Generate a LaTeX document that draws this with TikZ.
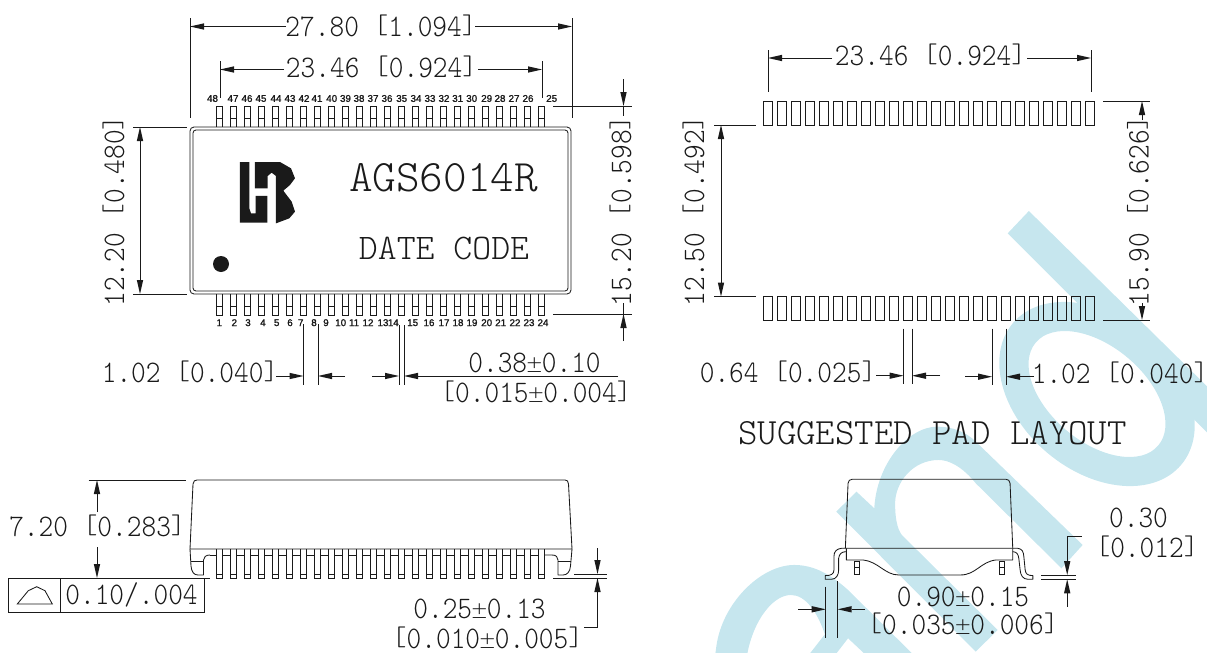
\documentclass[tikz,border=0pt]{standalone}
\usepackage{fontspec}
\usetikzlibrary{arrows.meta}
\newfontfamily\lmlight{Latin Modern Mono Light}
\newfontfamily\pinfont{Liberation Sans}[FakeBold=1.5]
\newfontfamily\pmfont{DejaVu Sans ExtraLight}
\definecolor{wm}{HTML}{C6E6EE}
\definecolor{ink}{HTML}{1A1A1A}
\newcommand\tall[1]{\scalebox{1}[1.12]{#1}}
\newcommand\dimlb{\raisebox{.0925em}{\scalebox{1}[.85]{[}}}
\newcommand\dimrb{\raisebox{.0925em}{\scalebox{1}[.85]{]}}}
\newcommand\dimpm{\makebox[.525em]{{\pmfont\fontsize{21}{21}\selectfont ±}}}
\tikzset{
  x=1pt,y=-1pt,
  line/.style={draw=ink,line width=0.85pt},
  dimhead/.style={line,-{Triangle[length=14pt,width=6.4pt,line width=0pt]}},
  dimboth/.style={line,{Triangle[length=14pt,width=6.4pt,line width=0pt]}-{Triangle[length=14pt,width=6.4pt,line width=0pt]}},
  dt/.style={inner sep=0pt,anchor=base,text=ink,font=\lmlight\fontsize{28}{28}\selectfont},
  vdt/.style={dt,rotate=90},
  pinlabel/.style={inner sep=0pt,text=ink,font=\pinfont\fontsize{9.8}{9.8}\selectfont},
  watermark/.style={fill=wm,draw=none},
  bodyline/.style={line,line join=round},
}
\begin{document}
\begin{tikzpicture}
\useasboundingbox (0,0) rectangle (1207,653);
% ---------- watermark ----------
\begin{scope}
\clip (0,0) rectangle (1207,653);
\begin{scope}[shift={(680,200)},x=0.3361pt,y=-0.3333pt]
  \fill[watermark] (1038,33) -- (1700,690) -- (1700,830) -- (975,100) -- cycle;
  \fill[watermark] (525,875) -- (578,925) .. controls (585,790) and (680,680) .. (765,680)
     .. controls (810,680) and (850,695) .. (880,725) -- (1198,1035) -- (1135,1105) -- (880,850)
     .. controls (840,800) and (800,780) .. (770,780) .. controls (690,780) and (640,850) .. (640,910)
     .. controls (640,950) and (645,985) .. (660,1005) -- (945,1290) -- (880,1355) -- (465,935) -- cycle;
  \fill[watermark,even odd rule] (100,1400) -- (108,1340) .. controls (125,1210) and (240,1095) .. (340,1095)
     .. controls (400,1095) and (450,1125) .. (500,1170) -- (730,1400) -- cycle
     (195,1400) .. controls (205,1280) and (270,1185) .. (330,1185) .. controls (375,1185) and (410,1240) .. (431,1303) -- (356,1400) -- cycle
     (500,1315) -- (590,1400) -- (435,1400) -- cycle;
\end{scope}
\fill[watermark,even odd rule] (1097,394) ellipse [x radius=110,y radius=77,rotate=-40]
     (1097,394) ellipse [x radius=80,y radius=47.5,rotate=-40];
\end{scope}
% ---------- top view ----------
\draw[line] (190,127) [rounded corners=4pt] -- (571,127) -- (571,294) -- (190,294) -- cycle;
\draw[line,rounded corners=3pt] (193,130) rectangle (568,291);
\foreach \i in {0,...,23}{
  \pgfmathsetmacro\px{219.5+14*\i}
  \draw[line,line width=.7pt] (\px-3,127) -- (\px-3,106) -- (\px+3,106) -- (\px+3,127) (\px-3,118) -- (\px+3,118);
  \draw[line,line width=.7pt] (\px-3,294) -- (\px-3,315) -- (\px+3,315) -- (\px+3,294) (\px-3,306) -- (\px+3,306);
}
\foreach \xx/\l in {212.5/48,233/47,247/46,261/45,276/44,290/43,304/42,317/41,331.7/40,345.5/39,359/38,373/37,387/36,401.7/35,416/34,430/33,444/32,457.7/31,471.7/30,486.7/29,500/28,514/27,528/26,551.7/25}{
  \node[pinlabel] (top\l) at (\xx,98.5) {\l};
}
\foreach \xx/\l in {219.3/1,234.3/2,248/3,263/4,276.7/5,290/6,300.7/7,314/8,326/9,340.7/10,354/11,368/12,383/13,393.3/14,412.7/15,429/16,444/17,458/18,472/19,486.7/20,500.7/21,515/22,529/23,543/24}{
  \node[pinlabel] (bot\l) at (\xx,322.7) {\l};
}
% logo
\begin{scope}[shift={(190,150)},x=0.3333pt,y=-0.3333pt]
  \fill[ink] (150,36) -- (178,36) -- (178,175) -- (183,190) -- (197,190) -- (197,138) -- (232,138) -- (232,218) -- (150,218) -- cycle;
  \fill[ink] (195,36) -- (270,36) -- (303,55) -- (315,85) -- (300,105) -- (280,122) -- (305,155) -- (315,185) -- (298,205) -- (258,220) -- (258,78) -- (245,68) -- (233,78) -- (233,115) -- (195,115) -- cycle;
\end{scope}
\fill[ink] (221,264) circle (8);
\node[dt,font=\lmlight\fontsize{45}{45}\selectfont] (partno) at (443.5,191) {AGS6014R};
\node[dt,font=\lmlight\fontsize{36}{36}\selectfont] (datecode) at (444,259) {DATE CODE};
% top dims
\draw[line] (190,18) -- (190,118) (572,18) -- (572,118);
\node[dt] (d1) at (381,36) {\tall{27.80 \dimlb1.094\dimrb}};
\draw[dimhead] (286,26.5) -- (190,26.5);
\draw[dimhead] (475,26.5) -- (572,26.5);
\draw[line] (220,61) -- (220,98) (542,61) -- (542,98);
\node[dt] (d2) at (381.5,77) {\tall{23.46 \dimlb0.924\dimrb}};
\draw[dimhead] (284,69.5) -- (220,69.5);
\draw[dimhead] (478,69.5) -- (542,69.5);
% left dim 12.20
\draw[line] (133,127) -- (187,127) (133,294) -- (187,294);
\draw[dimboth] (140,127) -- (140,294);
\node[vdt] (d3) at (124,211) {\tall{12.20 \dimlb0.480\dimrb}};
% right dim 15.20
\draw[line] (553,106) -- (632,106) (553,314) -- (632,314);
\draw[dimhead] (623.5,79) -- (623.5,106);
\draw[line] (623.5,106) -- (623.5,116);
\draw[dimhead] (623.5,341) -- (623.5,314);
\draw[line] (623.5,314) -- (623.5,303);
\node[vdt] (d4) at (631,211) {\tall{15.20 \dimlb0.598\dimrb}};
% pitch dims
\draw[line] (303.5,324) -- (303.5,385) (318,324) -- (318,385);
\draw[dimhead] (276,376) -- (303.5,376);
\draw[dimhead] (345,376) -- (318,376);
\node[dt] (d5) at (190,382.5) {\tall{1.02 \dimlb0.040\dimrb}};
\draw[line] (399,325) -- (399,385) (404,325) -- (404,385);
\draw[dimhead] (372,376) -- (399,376);
\draw[dimhead] (618,376) -- (404,376);
\node[dt] (d6) at (534.5,372.5) {\tall{0.38\dimpm0.10}};
\node[dt] (d7) at (536,402.5) {\tall{\dimlb0.015\dimpm0.004\dimrb}};
% ---------- pad layout ----------
\foreach \i in {0,...,23}{
  \pgfmathsetmacro\px{763+14*\i}
  \draw[line,line width=.8pt] (\px,101) rectangle (\px+9.5,125);
  \draw[line,line width=.8pt] (\px,296.5) rectangle (\px+9.5,320);
}
\draw[line] (768,50) -- (768,92) (1091,50) -- (1091,92);
\node[dt] (d8) at (930.5,65.5) {\tall{23.46 \dimlb0.924\dimrb}};
\draw[dimhead] (832,58) -- (768,58);
\draw[dimhead] (1027,58) -- (1091,58);
\draw[line] (714,125) -- (756,125) (714,296.5) -- (756,296.5);
\draw[dimboth] (721,125) -- (721,296.5);
\node[vdt] (d9) at (704,211) {\tall{12.50 \dimlb0.492\dimrb}};
\draw[line] (1103,101) -- (1150,101) (1103,320) -- (1150,320);
\draw[dimhead] (1142,120) -- (1142,101);
\draw[dimhead] (1142,303) -- (1142,320);
\node[vdt] (d10) at (1148.5,211) {\tall{15.90 \dimlb0.626\dimrb}};
\draw[line] (903.5,328.5) -- (903.5,384) (912,328.5) -- (912,384);
\draw[dimhead] (876,375.7) -- (903.5,375.7);
\draw[dimhead] (940,375.7) -- (912,375.7);
\node[dt] (d11) at (788,382.5) {\tall{0.64 \dimlb0.025\dimrb}};
\draw[line] (992,328.5) -- (992,384.5) (1006,328.5) -- (1006,384.5);
\draw[dimhead] (965,376.7) -- (992,376.7);
\draw[dimhead] (1034,376.7) -- (1006,376.7);
\node[dt] (d12) at (1120,383.5) {\tall{1.02 \dimlb0.040\dimrb}};
\node[dt,font=\lmlight\fontsize{37}{37}\selectfont] (title) at (932.5,444) {SUGGESTED PAD LAYOUT};
% ---------- left side view ----------
\draw[bodyline] (190,549) -- (193,484) .. controls (193.3,481) and (195,480) .. (197,480) -- (565,480) .. controls (567,480) and (568.3,481) .. (568.5,484) -- (572,549) -- cycle;
\draw[bodyline] (190,549) -- (191,566) .. controls (191.5,572) and (194,575) .. (198,575) -- (203.5,575) -- (203.5,560) .. controls (203.5,557) and (206,555) .. (210,555);
\draw[line] (191,561.5) -- (203.5,561.5);
\draw[bodyline] (572,549) -- (570.5,566) .. controls (570,572) and (567,575) .. (563,575) -- (558,575) -- (558,560) .. controls (558,557) and (556,555) .. (552,555) -- (544.5,555);
\draw[line] (558,561) -- (570.5,561);
\draw[line] (210,555) -- (216.5,555);
\foreach \i in {0,...,23}{
  \pgfmathsetmacro\px{219.5+14*\i}
  \draw[line,line width=.75pt] (\px-2.8,549) -- (\px-2.8,578) -- (\px+2.8,578) -- (\px+2.8,549) (\px-2.8,574) -- (\px+2.8,574);
}
\foreach \i in {0,...,22}{
  \pgfmathsetmacro\px{219.5+14*\i}
  \draw[line,line width=.75pt] (\px+2.8,555) -- (\px+11.2,555);
}
\node[dt] (d13) at (97.5,536) {\tall{7.20 \dimlb0.283\dimrb}};
\draw[line] (88.7,480) -- (186,480);
\draw[dimhead] (97,512) -- (97,480);
\draw[dimhead] (97,547) -- (97,578);
\draw[line] (8,578) -- (210,578);
\draw[line] (8,578) rectangle (204,612.5) (60,578) -- (60,612.5);
\draw[line] (17.3,604) -- (28.3,590.7) -- (36.7,586.7) -- (45,590.7) -- (52.3,604) -- cycle;
\node[dt] (d14) at (131.5,604.5) {\tall{0.10/.004}};
\draw[line] (574,574) -- (607,574) (553,578) -- (607,578);
\draw[dimhead] (597.5,548) -- (597.5,574);
\draw[dimhead] (597.5,604) -- (597.5,578);
\draw[line] (597.5,604) -- (597.5,627) -- (584,627);
\node[dt] (d15) at (479.5,618) {\tall{0.25\dimpm0.13}};
\node[dt] (d16) at (487.5,648) {\tall{\dimlb0.010\dimpm0.005\dimrb}};
% ---------- right side view ----------
\begin{scope}[shift={(680,200)},x=0.3361pt,y=-0.3333pt]
  \draw[bodyline] (492,1045) -- (500,850) .. controls (501,842) and (505,838) .. (512,838) -- (970,838) .. controls (977,838) and (981,842) .. (982,850) -- (990,1045) -- cycle;
  \draw[bodyline] (495,1045) -- (495,1080) -- (545,1080) .. controls (590,1085) and (610,1125) .. (650,1125) -- (835,1125) .. controls (880,1125) and (895,1085) .. (940,1080) -- (990,1080) -- (990,1045);
  \draw[bodyline] (492,1045) -- (480,1045) .. controls (465,1047) and (458,1055) .. (458,1070) -- (458,1110) .. controls (458,1122) and (450,1127) .. (432,1127) -- (432,1138) -- (450,1138) .. controls (465,1138) and (472,1125) .. (472,1110) -- (472,1075) .. controls (474,1062) and (480,1056) .. (493,1055);
  \draw[bodyline] (990,1045) -- (1005,1045) .. controls (1018,1047) and (1022,1055) .. (1023,1070) -- (1027,1110) .. controls (1028,1122) and (1035,1127) .. (1050,1127) -- (1050,1138) -- (1035,1138) .. controls (1020,1138) and (1013,1125) .. (1012,1110) -- (1008,1075) .. controls (1006,1062) and (1002,1056) .. (990,1055);
  \draw[line,line width=.75pt] (520,1085) rectangle (535,1122) (520,1103) -- (535,1103);
  \draw[line,line width=.75pt] (949,1085) rectangle (964,1122) (949,1103) -- (964,1103);
\end{scope}
\node[dt] (d17) at (1138.5,527.5) {\tall{0.30}};
\node[dt] (d18) at (1147,557.5) {\tall{\dimlb0.012\dimrb}};
\draw[line] (1081.7,536.7) -- (1067.2,536.7);
\draw[line] (1041,575) -- (1076,575) (1041,579.3) -- (1076,579.3);
\draw[dimhead] (1067.2,536.7) -- (1067.2,575);
\draw[dimhead] (1067.2,606.7) -- (1067.2,579.3);
\node[dt] (d19) at (963,606) {\tall{0.90\dimpm0.15}};
\node[dt] (d20) at (963,634.5) {\tall{\dimlb0.035\dimpm0.006\dimrb}};
\draw[line] (825.7,586.7) -- (825.7,638) (837.7,581) -- (837.7,638);
\draw[dimhead] (798,609.3) -- (825.7,609.3);
\draw[dimhead] (865,609.3) -- (837.7,609.3);
\end{tikzpicture}
\end{document}
